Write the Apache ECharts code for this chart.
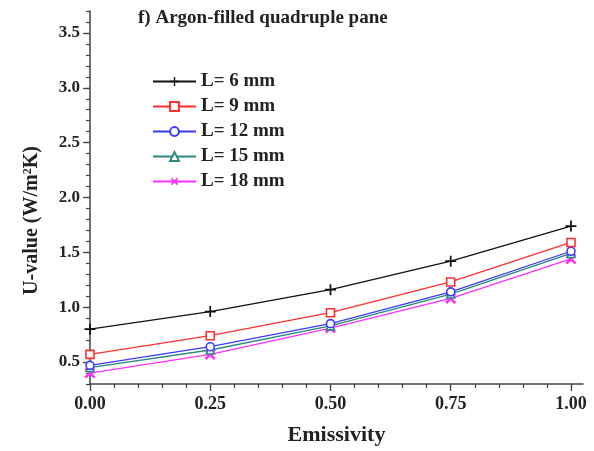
<!DOCTYPE html>
<html><head><meta charset="utf-8">
<script src="https://cdn.jsdelivr.net/npm/echarts@6/dist/echarts.min.js"></script>
<style>html,body{margin:0;padding:0;background:#fff}#c{width:594px;height:451px}</style>
</head><body><div id="c"></div>
<script>
const emissivity = [0, 0.25, 0.5, 0.75, 1.0];
const L6  = [0.80, 0.96, 1.16, 1.42, 1.74];
const L9  = [0.57, 0.74, 0.95, 1.23, 1.59];
const L12 = [0.47, 0.64, 0.85, 1.14, 1.51];
const L15 = [0.45, 0.61, 0.83, 1.12, 1.49];
const L18 = [0.40, 0.57, 0.81, 1.08, 1.44];
const seriesNames = ['L= 6 mm', 'L= 9 mm', 'L= 12 mm', 'L= 15 mm', 'L= 18 mm'];
const xTicks = [0, 0.25, 0.5, 0.75, 1.0];
const yTicks = [0.5, 1.0, 1.5, 2.0, 2.5, 3.0, 3.5];

const font = '"Liberation Serif", "DejaVu Serif", serif';
const xMinor = []; for (let i = 0; i <= 20; i++) xMinor.push(Math.round(i * 5) / 100);
const yMinor = []; for (let i = 3; i <= 37; i++) yMinor.push(Math.round(i) / 10);

const plus = 'path://M4.2,0H5.8V4.2H10V5.8H5.8V10H4.2V5.8H0V4.2H4.2Z';
const cross = 'path://M4,0H6V4H10V6H6V10H4V6H0V4H4Z';
const cols = ['#111111', '#ff3030', '#3a3aff', '#2a8a80', '#ff30ff'];
const syms = [plus, 'rect', 'circle', 'triangle', cross];
const sizes = [11, 8, 8, 8, 13];
const vals = [L6, L9, L12, L15, L18];

const series = vals.map((v, i) => ({
  name: seriesNames[i],
  type: 'line',
  data: v.map((y, j) => [emissivity[j], y]),
  symbol: syms[i],
  symbolSize: sizes[i],
  symbolRotate: i === 4 ? 45 : 0,
  showAllSymbol: true,
  lineStyle: { color: cols[i], width: 1.3 },
  itemStyle: (i === 0 || i === 4) ? { color: cols[i] } : { color: '#fff', borderColor: cols[i], borderWidth: 1.6 },
  z: 10 - i
}));

const chart = echarts.init(document.getElementById('c'), null, { renderer: 'canvas' });
chart.setOption({
  animation: false,
  backgroundColor: '#fff',
  title: {
    text: 'f) Argon-filled quadruple pane',
    left: 138, top: 9, padding: 0,
    textStyle: { fontFamily: font, fontWeight: 'bold', fontSize: 19, color: '#222' }
  },
  legend: {
    orient: 'vertical', left: 152, top: 72, padding: 0,
    itemWidth: 43, itemHeight: 11, itemGap: 6,
    data: seriesNames,
    textStyle: { fontFamily: font, fontWeight: 'bold', fontSize: 19, color: '#222' }
  },
  grid: { left: 90, right: 11, top: 11, bottom: 66, containLabel: false },
  xAxis: [{
    type: 'value', min: 0, max: 1.025,
    name: 'Emissivity', nameLocation: 'middle', nameGap: 40,
    nameTextStyle: { fontFamily: font, fontWeight: 'bold', fontSize: 22, color: '#222' },
    axisLine: { lineStyle: { color: '#444', width: 1.5 } },
    axisTick: { show: true, length: 7, customValues: xTicks, lineStyle: { color: '#444', width: 1.3 } },
    axisLabel: { customValues: xTicks, formatter: v => v.toFixed(2), margin: 11,
      fontFamily: font, fontWeight: 'bold', fontSize: 18, color: '#222' },
    splitLine: { show: false }
  }, {
    type: 'value', min: 0, max: 1.025, position: 'bottom',
    axisLine: { show: false },
    axisTick: { show: true, length: 4, customValues: xMinor, lineStyle: { color: '#444', width: 1.2 } },
    axisLabel: { show: false }, splitLine: { show: false }
  }],
  yAxis: [{
    type: 'value', min: 0.3, max: 3.7,
    name: 'U-value (W/m{sup|2}K)', nameLocation: 'middle', nameGap: 48, nameRotate: 90,
    nameTextStyle: { fontFamily: font, fontWeight: 'bold', fontSize: 20, color: '#222', padding: [0, 46, 0, 0],
      rich: { sup: { fontFamily: font, fontWeight: 'bold', fontSize: 12, color: '#222', verticalAlign: 'top', padding: [0, 0, 8, 0] } } },
    axisLine: { show: true, lineStyle: { color: '#444', width: 1.5 } },
    axisTick: { show: true, length: 7, customValues: yTicks, lineStyle: { color: '#444', width: 1.3 } },
    axisLabel: { customValues: yTicks, formatter: v => v.toFixed(1), margin: 10,
      fontFamily: font, fontWeight: 'bold', fontSize: 17, color: '#222' },
    splitLine: { show: false }
  }, {
    type: 'value', min: 0.3, max: 3.7, position: 'left',
    axisLine: { show: false },
    axisTick: { show: true, length: 4, customValues: yMinor, lineStyle: { color: '#444', width: 1.2 } },
    axisLabel: { show: false }, splitLine: { show: false }
  }],
  series: series
});
</script></body></html>
